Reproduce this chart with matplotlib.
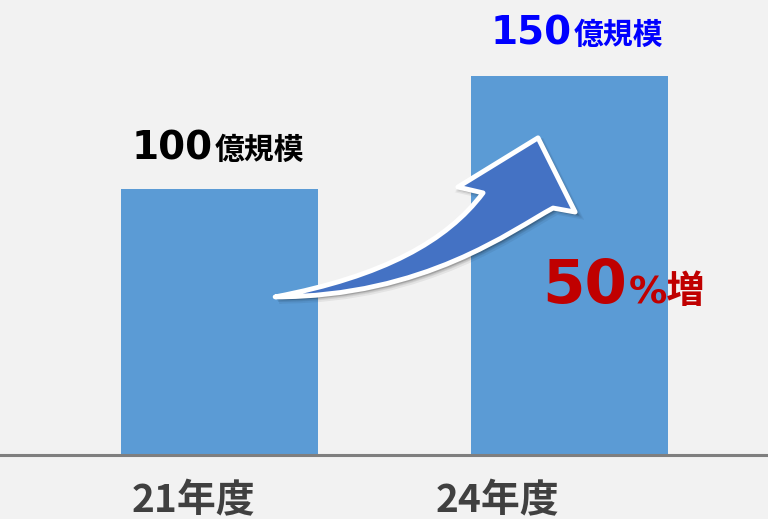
import matplotlib.pyplot as plt
import numpy as np
from matplotlib.patches import PathPatch
from matplotlib.path import Path
from matplotlib.transforms import Affine2D

# data
years = ["21年度", "24年度"]
bar_heights = [100, 142.5]  # drawn bar heights (bar tops in the reference)
size_labels = ["100", "150"]
size_unit = "億規模"
label_colors = ["#000000", "#0000ff"]
growth_num = "50"
growth_unit = "%増"

bar_color = "#5b9bd5"
bg = "#f2f2f2"
cjk = "Noto Sans CJK JP"

fig = plt.figure(figsize=(7.68, 5.19), dpi=100)
fig.set_facecolor(bg)
ax = fig.add_axes([0, 0.0969, 1, 0.903])
ax.set_axis_off()

x = np.arange(len(years))
ax.bar(x, bar_heights, width=0.563, color=bar_color, zorder=2)
ax.axhline(0, color="#7f7f7f", lw=2.2, zorder=3)
ax.set_xlim(-0.627, 1.567)
ax.set_ylim(-5, 171.2)

# value labels above the bars (number + unit)
num_offsets = [(-4.7, 21.6), (1.8, 23.0)]
unit_offsets = [(-3.5, 21.6), (3.0, 23.0)]
for i in range(len(x)):
    ax.annotate(size_labels[i], (x[i], bar_heights[i]), xytext=num_offsets[i],
                textcoords="offset points", ha="right", va="baseline",
                fontsize=28, fontweight="bold", family=["DejaVu Sans"],
                color=label_colors[i])
    ax.annotate(size_unit, (x[i], bar_heights[i]), xytext=unit_offsets[i],
                textcoords="offset points", ha="left", va="baseline",
                fontsize=21.5, fontweight="bold", family=[cjk],
                color=label_colors[i])

# category labels under the baseline
year_offsets = [(-18.4, -40.7), (-51.8, -40.7)]
for i in range(len(x)):
    ax.annotate(years[i], (x[i], 0), xytext=year_offsets[i],
                textcoords="offset points", ha="center", va="baseline",
                fontsize=28, fontweight="bold", family=[cjk], color="#404040")

# growth text
ax.text(1.164, 57.3, growth_num, ha="right", va="baseline", fontsize=44,
        fontweight="bold", family=["DejaVu Sans"], color="#c00000", zorder=5)
ax.text(1.170, 57.3, growth_unit, ha="left", va="baseline", fontsize=27.5,
        fontweight="bold", family=["DejaVu Sans", cjk], color="#c00000", zorder=5)

# curved block arrow from bar 1 to bar 2 (upper edge, head, lower edge)
verts = [
    (0.159, 59.6), (0.467, 67.3), (0.650, 80.6), (0.753, 98.7),
    (0.681, 100.9), (0.910, 119.4), (1.016, 91.5), (0.953, 93.0),
    (0.836, 84.8), (0.587, 59.6), (0.159, 59.6), (0.159, 59.6),
]
codes = [Path.MOVETO, Path.CURVE4, Path.CURVE4, Path.CURVE4,
         Path.LINETO, Path.LINETO, Path.LINETO, Path.LINETO,
         Path.CURVE4, Path.CURVE4, Path.CURVE4, Path.CLOSEPOLY]
arrow_path = Path(verts, codes)

for k, (off, a) in enumerate([(4, 0.06), (3, 0.08), (2, 0.10)]):
    shadow = PathPatch(arrow_path, facecolor="#000000", edgecolor="#000000",
                       lw=4 - k, alpha=a, zorder=6,
                       transform=ax.transData + Affine2D().translate(off, -off))
    ax.add_patch(shadow)
ax.add_patch(PathPatch(arrow_path, facecolor="#4472c4", edgecolor="white",
                       lw=3.5, joinstyle="round", zorder=7))

plt.savefig("out.png", dpi=100, facecolor=bg)
